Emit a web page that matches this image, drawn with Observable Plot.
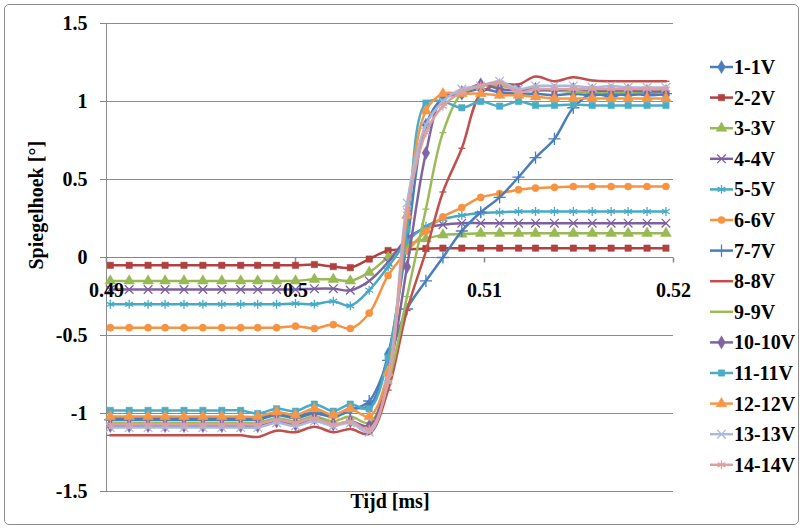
<!DOCTYPE html>
<html><head><meta charset="utf-8">
<script src="https://cdn.jsdelivr.net/npm/d3@7"></script>
<script src="https://cdn.jsdelivr.net/npm/@observablehq/plot@0.6"></script>
<style>
body{margin:0;background:#fff;}
#wrap{position:relative;width:804px;height:531px;overflow:hidden;font-family:"Liberation Serif","Times New Roman",serif;}
#frame{position:absolute;left:4px;top:4px;width:795px;height:521px;border:1px solid #8c8c8c;border-radius:5px;box-sizing:border-box;}
#chart{position:absolute;left:0;top:0;}
#legend{position:absolute;left:708px;top:0;}
</style></head><body>
<div id="wrap"><div id="frame"></div><div id="chart"></div><div id="legend"></div></div>
<script>
// ---- data ----
const time = [0.4902,0.4912,0.4922,0.4931,0.4941,0.4951,0.4961,0.4971,0.4980,0.4990,0.5000,0.5010,0.5020,0.5029,0.5039,0.5049,0.5059,0.5069,0.5078,0.5088,0.5098,0.5108,0.5118,0.5127,0.5137,0.5147,0.5157,0.5167,0.5176,0.5186,0.5196];
const seriesNames = ["1-1V","2-2V","3-3V","4-4V","5-5V","6-6V","7-7V","8-8V","9-9V","10-10V","11-11V","12-12V","13-13V","14-14V"];
const v1  = [-1.03,-1.03,-1.03,-1.03,-1.03,-1.03,-1.03,-1.03,-1.03,-1.00,-1.02,-0.99,-1.01,-0.97,-0.95,-0.62,0.10,0.85,1.02,1.05,1.08,1.06,1.05,1.05,1.04,1.05,1.04,1.05,1.04,1.05,1.04];
const v2  = [-0.05,-0.05,-0.05,-0.05,-0.05,-0.05,-0.05,-0.05,-0.05,-0.05,-0.05,-0.045,-0.058,-0.065,-0.01,0.045,0.05,0.058,0.06,0.06,0.06,0.06,0.06,0.06,0.06,0.06,0.06,0.06,0.06,0.06,0.06];
const v3  = [-0.15,-0.15,-0.15,-0.15,-0.15,-0.15,-0.15,-0.15,-0.15,-0.15,-0.15,-0.14,-0.14,-0.15,-0.095,0.0,0.08,0.12,0.145,0.15,0.155,0.155,0.155,0.155,0.155,0.155,0.155,0.155,0.155,0.155,0.155];
const v4  = [-0.205,-0.205,-0.205,-0.205,-0.205,-0.205,-0.205,-0.205,-0.205,-0.205,-0.205,-0.20,-0.20,-0.21,-0.15,-0.03,0.12,0.19,0.21,0.22,0.22,0.22,0.22,0.22,0.22,0.22,0.22,0.22,0.22,0.22,0.22];
const v5  = [-0.30,-0.30,-0.30,-0.30,-0.30,-0.30,-0.30,-0.30,-0.30,-0.30,-0.295,-0.30,-0.28,-0.31,-0.21,-0.06,0.10,0.20,0.245,0.27,0.285,0.29,0.295,0.295,0.295,0.295,0.295,0.295,0.295,0.295,0.295];
const v6  = [-0.45,-0.45,-0.45,-0.45,-0.45,-0.45,-0.45,-0.45,-0.45,-0.45,-0.44,-0.455,-0.43,-0.455,-0.357,-0.115,0.04,0.17,0.26,0.32,0.385,0.41,0.435,0.445,0.45,0.455,0.455,0.455,0.455,0.455,0.455];
const v7  = [-1.04,-1.04,-1.04,-1.04,-1.04,-1.04,-1.04,-1.04,-1.04,-1.01,-1.03,-1.00,-1.02,-0.98,-0.92,-0.66,-0.33,-0.15,0.0,0.17,0.29,0.385,0.515,0.64,0.76,0.96,1.05,1.03,1.06,1.04,1.05];
const v8  = [-1.14,-1.14,-1.14,-1.14,-1.14,-1.14,-1.14,-1.14,-1.15,-1.11,-1.12,-1.085,-1.12,-1.10,-1.13,-0.85,-0.34,0.04,0.42,0.70,1.05,1.11,1.11,1.16,1.13,1.155,1.135,1.13,1.13,1.13,1.13];
const v9  = [-1.06,-1.06,-1.06,-1.06,-1.06,-1.06,-1.06,-1.06,-1.06,-1.03,-1.05,-1.02,-1.05,-1.02,-1.06,-0.80,-0.25,0.31,0.80,1.05,1.10,1.10,1.08,1.07,1.07,1.06,1.06,1.06,1.06,1.06,1.06];
const v10 = [-1.08,-1.08,-1.08,-1.08,-1.08,-1.08,-1.08,-1.08,-1.08,-1.05,-1.07,-1.03,-1.07,-1.05,-1.08,-0.75,-0.06,0.67,1.03,1.06,1.11,1.08,1.07,1.08,1.07,1.08,1.07,1.07,1.07,1.065,1.065];
const v11 = [-0.98,-0.98,-0.98,-0.98,-0.98,-0.98,-0.98,-0.98,-1.00,-0.97,-0.985,-0.94,-0.985,-0.94,-0.97,-0.64,0.18,0.99,1.00,0.96,1.00,0.97,1.00,0.975,0.975,0.98,0.975,0.975,0.975,0.975,0.975];
const v12 = [-1.02,-1.02,-1.02,-1.02,-1.02,-1.02,-1.02,-1.02,-1.02,-0.99,-1.01,-0.97,-1.01,-0.97,-1.02,-0.735,0.27,0.94,1.05,1.05,1.05,1.04,1.04,1.03,1.02,1.02,1.02,1.02,1.02,1.02,1.02];
const v13 = [-1.09,-1.09,-1.09,-1.09,-1.09,-1.09,-1.09,-1.09,-1.09,-1.06,-1.08,-1.05,-1.08,-1.06,-1.12,-0.78,0.35,0.85,1.00,1.08,1.10,1.13,1.08,1.10,1.10,1.10,1.09,1.10,1.09,1.09,1.09];
const v14 = [-1.07,-1.07,-1.07,-1.07,-1.07,-1.07,-1.07,-1.07,-1.07,-1.04,-1.06,-1.03,-1.07,-1.05,-1.10,-0.80,0.30,0.80,0.97,1.06,1.10,1.12,1.06,1.08,1.08,1.08,1.08,1.08,1.08,1.08,1.08];
const yTicks = [-1.5,-1,-0.5,0,0.5,1,1.5];
const xTicks = [0.49,0.5,0.51,0.52];
const colors = ["#4a7ebb","#b0413e","#98b954","#7d60a0","#46aac5","#f69240","#4a7ebb","#c0504d","#9bbb59","#8064a2","#4bacc6","#f79646","#aab9dc","#dda0a0"];

// ---- symbols ----
const dash = {draw(ctx, size){ const r = Math.sqrt(size/Math.PI); ctx.moveTo(-r,0); ctx.lineTo(r,0); }};
const tickDown = {draw(ctx){ ctx.moveTo(0,0); ctx.lineTo(0,5); }};
const markerDefs = [
  {p:"diamond", d:d3.symbolDiamond, filled:true, r:4},
  {p:"square", d:d3.symbolSquare, filled:true, r:3.6},
  {p:"triangle", d:d3.symbolTriangle, filled:true, r:4},
  {p:"times", d:d3.symbolTimes, filled:false, r:4},
  {p:"asterisk", d:d3.symbolAsterisk, filled:false, r:4.2},
  {p:"circle", d:d3.symbolCircle, filled:true, r:3.6},
  {p:"plus", d:d3.symbolPlus, filled:false, r:4},
  {p:dash, d:dash, filled:false, r:3.5},
  {p:dash, d:dash, filled:false, r:3.5},
  {p:"diamond", d:d3.symbolDiamond, filled:true, r:4},
  {p:"square", d:d3.symbolSquare, filled:true, r:3.6},
  {p:"triangle", d:d3.symbolTriangle, filled:true, r:4},
  {p:"times", d:d3.symbolTimes, filled:false, r:4},
  {p:"asterisk", d:d3.symbolAsterisk, filled:false, r:4.2}
];

const allValues = [v1,v2,v3,v4,v5,v6,v7,v8,v9,v10,v11,v12,v13,v14];
const font = '"Liberation Serif","Times New Roman",serif';

const marks = [
  Plot.ruleY(yTicks, {stroke:"#8c8c8c", strokeWidth:1}),
  Plot.ruleX([0.49], {stroke:"#8c8c8c", strokeWidth:1}),
  Plot.ruleY([0], {stroke:"#868686", strokeWidth:1.2}),
  Plot.dot(xTicks, {x:d=>d, y:()=>0, symbol:tickDown, fill:"none", stroke:"#868686"}),
  Plot.axisY(yTicks, {tickFormat:d=>String(d), tickSize:6, tickPadding:13, stroke:"#868686", fill:"black", fontSize:20, fontWeight:"bold", fontFamily:font, label:null})
];
allValues.forEach((vals, i) => {
  const data = time.map((t,k)=>({t, v:vals[k]}));
  const m = markerDefs[i];
  marks.push(Plot.line(data, {x:"t", y:"v", stroke:colors[i], strokeWidth:2.5, curve:"catmull-rom"}));
  marks.push(Plot.dot(data, {x:"t", y:"v", symbol:m.p, r:m.r,
    fill: m.filled ? colors[i] : "none", stroke: colors[i], strokeWidth: m.filled ? 0.5 : 1.3}));
});
marks.push(
  Plot.text(xTicks, {x:d=>d, y:()=>0, text:d=>String(d), dy:33, fontSize:20, fontWeight:"bold", fontFamily:font, fill:"black"}),
  Plot.text(["Tijd [ms]"], {frameAnchor:"bottom", dy:16, fontSize:20, fontWeight:"bold", fontFamily:font, fill:"black"}),
  Plot.text(["Spiegelhoek [°]"], {frameAnchor:"left", rotate:-90, dx:-70, dy:12, fontSize:20, fontWeight:"bold", fontFamily:font, fill:"black"})
);

const chart = Plot.plot({
  width:804, height:531,
  marginLeft:106, marginRight:131, marginTop:23, marginBottom:40,
  x:{domain:[0.49,0.52], axis:null},
  y:{domain:[-1.5,1.5], axis:null},
  style:{fontFamily:font, fontSize:"20px", fontWeight:"bold", background:"transparent", color:"black"},
  marks
});
document.getElementById("chart").appendChild(chart);

// ---- legend ----
const lg = d3.select("#legend").append("svg").attr("width",96).attr("height",531);
seriesNames.forEach((name,i)=>{
  const y = 67 + 30.6*i;
  const g = lg.append("g").attr("transform",`translate(0,${y})`);
  g.append("line").attr("x1",2).attr("x2",25).attr("y1",0).attr("y2",0).attr("stroke",colors[i]).attr("stroke-width",2.5);
  const m = markerDefs[i];
  g.append("path").attr("transform","translate(13.5,0)")
    .attr("d", d3.symbol(m.d, Math.PI*m.r*m.r)())
    .attr("fill", m.filled ? colors[i] : "none").attr("stroke", colors[i]).attr("stroke-width", m.filled?0.5:1.3);
  g.append("text").attr("x",26).attr("y",0).attr("dy","0.35em").text(name)
    .style("font-family",font).style("font-size","20px").style("font-weight","bold").attr("fill","black");
});
</script>
</body></html>
